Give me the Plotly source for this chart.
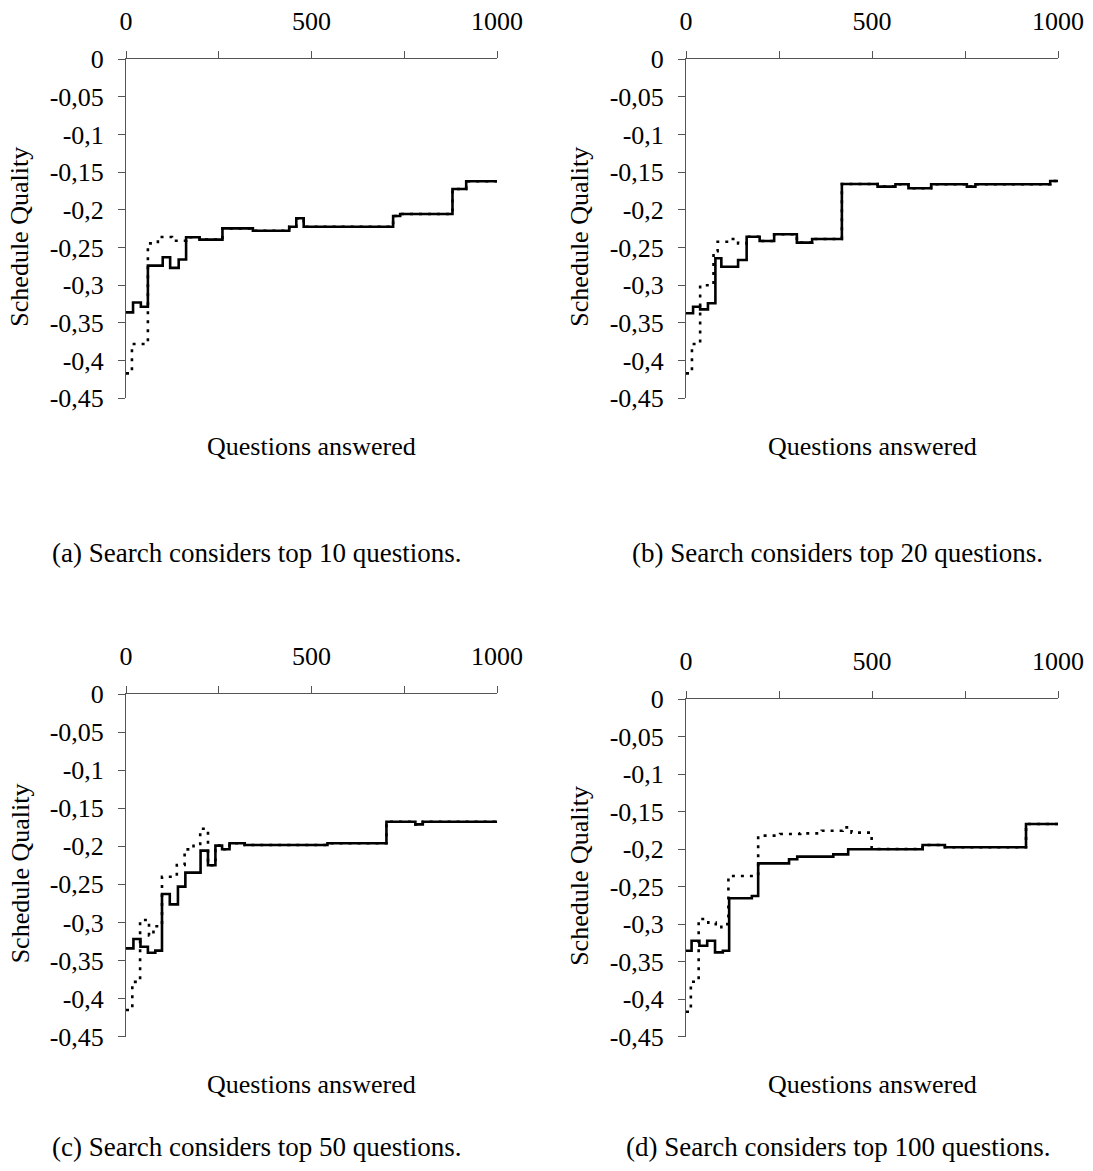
import plotly.graph_objects as go

# Schedule quality vs. questions answered, four search-width settings.
# Solid = one strategy, dotted = the other.

A_solid_x = [0, 19, 40, 59, 99, 119, 142, 162, 198, 260, 342, 440, 459, 479, 720, 739, 880, 917, 1000]
A_solid_y = [-0.336, -0.323, -0.3285, -0.274, -0.263, -0.277, -0.266, -0.2365, -0.2396, -0.2246,
             -0.2277, -0.2224, -0.2113, -0.2224, -0.2082, -0.2056, -0.1724, -0.1622, -0.1622]
A_dot_x = [0, 16, 59, 86, 124, 162, 198, 260, 342, 440, 459, 479, 720, 739, 880, 917, 1000]
A_dot_y = [-0.417, -0.378, -0.2445, -0.236, -0.241, -0.2365, -0.2396, -0.2246, -0.2277, -0.2224,
           -0.2113, -0.2224, -0.2082, -0.2056, -0.1724, -0.1622, -0.1622]

B_solid_x = [0, 19, 38, 59, 79, 95, 140, 163, 198, 237, 298, 339, 419, 515, 563, 598, 659, 755, 778, 979, 1000]
B_solid_y = [-0.3373, -0.3285, -0.332, -0.324, -0.2643, -0.2755, -0.2666, -0.2357, -0.2414, -0.2325,
             -0.2436, -0.2387, -0.1658, -0.1693, -0.1662, -0.1715, -0.1662, -0.1693, -0.1662, -0.1618, -0.1618]
B_dot_x = [0, 16, 38, 74, 85, 119, 140, 163, 198, 237, 298, 339, 419, 515, 563, 598, 659, 755, 778, 979, 1000]
B_dot_y = [-0.417, -0.378, -0.300, -0.255, -0.2423, -0.2387, -0.2445, -0.2357, -0.2414, -0.2325,
           -0.2436, -0.2387, -0.1658, -0.1693, -0.1662, -0.1715, -0.1662, -0.1693, -0.1662, -0.1618, -0.1618]

C_solid_x = [0, 20, 39, 59, 79, 97, 118, 140, 160, 201, 221, 241, 259, 279, 320, 543, 702, 780, 800, 1000]
C_solid_y = [-0.334, -0.3217, -0.3318, -0.3397, -0.337, -0.2626, -0.2762, -0.253, -0.2346, -0.2057,
             -0.2249, -0.1991, -0.2039, -0.196, -0.1983, -0.196, -0.1677, -0.1712, -0.1677, -0.1677]
C_dot_x = [0, 17, 38, 62, 74, 97, 137, 158, 182, 200, 221, 241, 259, 279, 320, 543, 702, 780, 800, 1000]
C_dot_y = [-0.415, -0.378, -0.2967, -0.317, -0.305, -0.240, -0.2245, -0.204, -0.197, -0.177,
           -0.2249, -0.1991, -0.2039, -0.196, -0.1983, -0.196, -0.1677, -0.1712, -0.1677, -0.1677]

D_solid_x = [0, 15, 36, 57, 78, 99, 116, 177, 194, 277, 299, 396, 436, 636, 696, 914, 1000]
D_solid_y = [-0.3354, -0.3221, -0.3288, -0.3221, -0.3376, -0.3354, -0.2656, -0.2625, -0.219, -0.2136,
             -0.2101, -0.207, -0.2003, -0.1946, -0.1976, -0.1666, -0.1666]
D_dot_x = [0, 13, 34, 60, 80, 95, 114, 194, 253, 307, 365, 421, 445, 499, 636, 696, 914, 1000]
D_dot_y = [-0.4167, -0.3767, -0.2931, -0.298, -0.304, -0.300, -0.2358, -0.1821, -0.1799, -0.179,
           -0.1755, -0.171, -0.178, -0.1999, -0.1946, -0.1976, -0.1666, -0.1666]

X_TICKS = [0, 250, 500, 750, 1000]
X_LABELS = ["0", "", "500", "", "1000"]
Y_TICKS = [0, -0.05, -0.1, -0.15, -0.2, -0.25, -0.3, -0.35, -0.4, -0.45]
Y_LABELS = ["0", "-0,05", "-0,1", "-0,15", "-0,2", "-0,25", "-0,3", "-0,35", "-0,4", "-0,45"]

CAPTIONS = [
    "(a) Search considers top 10 questions.",
    "(b) Search considers top 20 questions.",
    "(c) Search considers top 50 questions.",
    "(d) Search considers top 100 questions.",
]
Y_TITLE = "Schedule Quality"
X_TITLE = "Questions answered"

W, H = 1093, 1171
FONT = "Liberation Serif, Times New Roman, serif"
FS = 26

# pixel boxes of each plot area: (left, right, top, bottom)
boxes = [(126, 497, 59, 398.3), (686, 1058, 59, 398.3),
         (126, 497, 694, 1036.7), (686, 1058, 699, 1036.7)]
series = [(A_solid_x, A_solid_y, A_dot_x, A_dot_y),
          (B_solid_x, B_solid_y, B_dot_x, B_dot_y),
          (C_solid_x, C_solid_y, C_dot_x, C_dot_y),
          (D_solid_x, D_solid_y, D_dot_x, D_dot_y)]
# caption centres (x, y) in pixels
caption_pos = [(256, 553), (837, 553), (256, 1147), (838, 1147)]

fig = go.Figure()
layout = dict(template="none", width=W, height=H, autosize=False,
              margin=dict(l=0, r=0, t=0, b=0, pad=0, autoexpand=False),
              paper_bgcolor="white", plot_bgcolor="white", showlegend=False,
              font=dict(family=FONT, size=FS, color="black"))
annotations = []

for i, ((l, r, t, b), (sx, sy, dx, dy)) in enumerate(zip(boxes, series)):
    n = "" if i == 0 else str(i + 1)
    xa, ya = "x" + n, "y" + n
    fig.add_trace(go.Scatter(x=sx, y=sy, mode="lines", line=dict(shape="hv", color="black", width=2.6),
                             xaxis=xa, yaxis=ya, hoverinfo="skip"))
    fig.add_trace(go.Scatter(x=dx, y=dy, mode="lines",
                             line=dict(shape="hv", color="black", width=2.6, dash="3px,6px"),
                             xaxis=xa, yaxis=ya, hoverinfo="skip"))
    layout["xaxis" + n] = dict(domain=[l / W, r / W], range=[0, 1000], side="top", anchor=ya,
                               automargin=False, showgrid=False, zeroline=False, showline=True,
                               linecolor="#555", linewidth=1, ticks="outside", ticklen=7,
                               tickcolor="#555", tickvals=X_TICKS, ticktext=X_LABELS,
                               tickfont=dict(size=FS), ticklabelstandoff=11)
    layout["yaxis" + n] = dict(domain=[1 - b / H, 1 - t / H], range=[-0.45, 0], anchor=xa,
                               automargin=False, showgrid=False, zeroline=False, showline=True,
                               linecolor="#555", linewidth=1, ticks="outside", ticklen=7,
                               tickcolor="#555", tickvals=Y_TICKS, ticktext=Y_LABELS,
                               tickfont=dict(size=FS), ticklabelstandoff=9)
    mid_x = (l + r) / 2
    cx, cy = caption_pos[i]
    annotations.append(dict(text=Y_TITLE, textangle=-90, xref="paper", yref="paper",
                            x=(l - 106) / W, y=1 - ((t + b) / 2 + 8) / H, showarrow=False,
                            xanchor="center", yanchor="middle", font=dict(size=FS)))
    annotations.append(dict(text=X_TITLE, xref="paper", yref="paper", x=mid_x / W,
                            y=1 - (b + 48) / H, showarrow=False, xanchor="center",
                            yanchor="middle", font=dict(size=FS)))
    annotations.append(dict(text=CAPTIONS[i], xref="paper", yref="paper", x=cx / W,
                            y=1 - cy / H, showarrow=False, xanchor="center", yanchor="middle",
                            font=dict(size=FS + 1)))

layout["annotations"] = annotations
fig.update_layout(**layout)
fig.write_html("out.html")
